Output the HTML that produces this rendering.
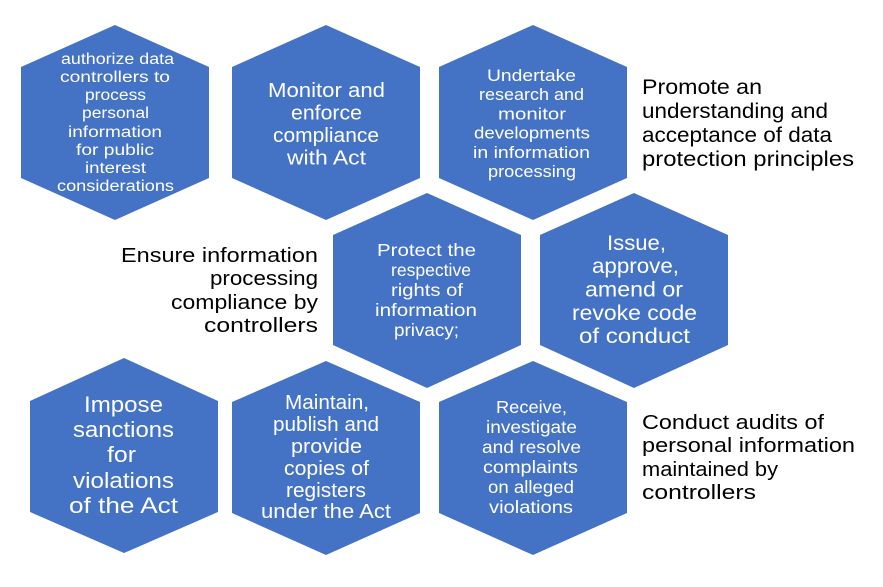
<!DOCTYPE html>
<html>
<head>
<meta charset="utf-8">
<style>
html,body{margin:0;padding:0;background:#fff;}
svg{display:block;}
text{font-family:"Liberation Sans",sans-serif;}
.w{fill:#fff;}
.b{fill:#000;}
</style>
</head>
<body>
<svg width="883" height="587" viewBox="0 0 883 587" xmlns="http://www.w3.org/2000/svg">
<rect width="883" height="587" fill="#fff"/>
<g fill="#4472C4">
<polygon points="115,25 209,67 209,178 115,220 21,178 21,67"/>
<polygon points="326,25 420,67 420,178 326,220 232,178 232,67"/>
<polygon points="533,25 627,67 627,178 533,220 439,178 439,67"/>
<polygon points="427,193 521,235 521,345 427,388 333,345 333,235"/>
<polygon points="634,193 728,235 728,345 634,388 540,345 540,235"/>
<polygon points="124,358 218,401 218,512 124,553 30,512 30,401"/>
<polygon points="326,361 420,402 420,513 326,555 232,513 232,402"/>
<polygon points="533,361 627,402 627,513 533,555 439,513 439,402"/>
</g>

<!-- Hex 1 -->
<g class="w" font-size="15.5">
<text x="61" y="64" textLength="113" lengthAdjust="spacingAndGlyphs">authorize data</text>
<text x="60" y="82" textLength="110" lengthAdjust="spacingAndGlyphs">controllers to</text>
<text x="85" y="100" textLength="61" lengthAdjust="spacingAndGlyphs">process</text>
<text x="82" y="118" textLength="67" lengthAdjust="spacingAndGlyphs">personal</text>
<text x="68" y="137" textLength="94" lengthAdjust="spacingAndGlyphs">information</text>
<text x="76" y="155" textLength="78" lengthAdjust="spacingAndGlyphs">for public</text>
<text x="85" y="173" textLength="61" lengthAdjust="spacingAndGlyphs">interest</text>
<text x="57" y="191" textLength="117" lengthAdjust="spacingAndGlyphs">considerations</text>
</g>

<!-- Hex 2 -->
<g class="w" font-size="20">
<text x="268" y="97" textLength="117" lengthAdjust="spacingAndGlyphs">Monitor and</text>
<text x="291" y="119.5" textLength="71" lengthAdjust="spacingAndGlyphs">enforce</text>
<text x="273" y="142" textLength="106" lengthAdjust="spacingAndGlyphs">compliance</text>
<text x="287" y="164.5" textLength="79" lengthAdjust="spacingAndGlyphs">with Act</text>
</g>

<!-- Hex 3 -->
<g class="w" font-size="16.5">
<text x="487" y="81" textLength="89" lengthAdjust="spacingAndGlyphs">Undertake</text>
<text x="479" y="100.2" textLength="105" lengthAdjust="spacingAndGlyphs">research and</text>
<text x="498" y="119.4" textLength="68" lengthAdjust="spacingAndGlyphs">monitor</text>
<text x="474" y="138.6" textLength="116" lengthAdjust="spacingAndGlyphs">developments</text>
<text x="473" y="157.8" textLength="117" lengthAdjust="spacingAndGlyphs">in information</text>
<text x="488" y="177" textLength="88" lengthAdjust="spacingAndGlyphs">processing</text>
</g>

<!-- Promote -->
<g class="b" font-size="21">
<text x="642" y="94" textLength="120" lengthAdjust="spacingAndGlyphs">Promote an</text>
<text x="642" y="118" textLength="186" lengthAdjust="spacingAndGlyphs">understanding and</text>
<text x="642" y="142" textLength="190" lengthAdjust="spacingAndGlyphs">acceptance of data</text>
<text x="642" y="166" textLength="212" lengthAdjust="spacingAndGlyphs">protection principles</text>
</g>

<!-- Ensure -->
<g class="b" font-size="20">
<text x="121" y="262" textLength="197" lengthAdjust="spacingAndGlyphs">Ensure information</text>
<text x="210" y="285" textLength="108" lengthAdjust="spacingAndGlyphs">processing</text>
<text x="171" y="309" textLength="147" lengthAdjust="spacingAndGlyphs">compliance by</text>
<text x="204" y="332" textLength="114" lengthAdjust="spacingAndGlyphs">controllers</text>
</g>

<!-- Protect -->
<g class="w" font-size="17.5">
<text x="377" y="256" textLength="99" lengthAdjust="spacingAndGlyphs">Protect the</text>
<text x="391" y="276" textLength="80" lengthAdjust="spacingAndGlyphs">respective</text>
<text x="391" y="296" textLength="72" lengthAdjust="spacingAndGlyphs">rights of</text>
<text x="375" y="316" textLength="102" lengthAdjust="spacingAndGlyphs">information</text>
<text x="394" y="336" textLength="65" lengthAdjust="spacingAndGlyphs">privacy;</text>
</g>

<!-- Issue -->
<g class="w" font-size="21">
<text x="607" y="250" textLength="59" lengthAdjust="spacingAndGlyphs">Issue,</text>
<text x="592" y="273" textLength="87" lengthAdjust="spacingAndGlyphs">approve,</text>
<text x="585" y="296.5" textLength="98" lengthAdjust="spacingAndGlyphs">amend or</text>
<text x="572" y="320" textLength="125" lengthAdjust="spacingAndGlyphs">revoke code</text>
<text x="579" y="343" textLength="111" lengthAdjust="spacingAndGlyphs">of conduct</text>
</g>

<!-- Impose -->
<g class="w" font-size="22">
<text x="84" y="412" textLength="79" lengthAdjust="spacingAndGlyphs">Impose</text>
<text x="73" y="437" textLength="101" lengthAdjust="spacingAndGlyphs">sanctions</text>
<text x="107" y="462" textLength="29" lengthAdjust="spacingAndGlyphs">for</text>
<text x="73" y="488" textLength="101" lengthAdjust="spacingAndGlyphs">violations</text>
<text x="69" y="513" textLength="109" lengthAdjust="spacingAndGlyphs">of the Act</text>
</g>

<!-- Maintain -->
<g class="w" font-size="20">
<text x="285" y="409" textLength="84" lengthAdjust="spacingAndGlyphs">Maintain,</text>
<text x="273" y="431" textLength="106" lengthAdjust="spacingAndGlyphs">publish and</text>
<text x="291" y="453" textLength="71" lengthAdjust="spacingAndGlyphs">provide</text>
<text x="284" y="475" textLength="85" lengthAdjust="spacingAndGlyphs">copies of</text>
<text x="286" y="497" textLength="80" lengthAdjust="spacingAndGlyphs">registers</text>
<text x="261" y="518" textLength="130" lengthAdjust="spacingAndGlyphs">under the Act</text>
</g>

<!-- Receive -->
<g class="w" font-size="17.5">
<text x="496" y="413" textLength="71" lengthAdjust="spacingAndGlyphs">Receive,</text>
<text x="486" y="433" textLength="91" lengthAdjust="spacingAndGlyphs">investigate</text>
<text x="482" y="453" textLength="99" lengthAdjust="spacingAndGlyphs">and resolve</text>
<text x="483" y="473" textLength="95" lengthAdjust="spacingAndGlyphs">complaints</text>
<text x="488" y="493" textLength="86" lengthAdjust="spacingAndGlyphs">on alleged</text>
<text x="489" y="513" textLength="84" lengthAdjust="spacingAndGlyphs">violations</text>
</g>

<!-- Conduct -->
<g class="b" font-size="20">
<text x="642" y="429" textLength="182" lengthAdjust="spacingAndGlyphs">Conduct audits of</text>
<text x="642" y="452" textLength="213" lengthAdjust="spacingAndGlyphs">personal information</text>
<text x="642" y="476" textLength="136" lengthAdjust="spacingAndGlyphs">maintained by</text>
<text x="642" y="499" textLength="114" lengthAdjust="spacingAndGlyphs">controllers</text>
</g>
</svg>
</body>
</html>
